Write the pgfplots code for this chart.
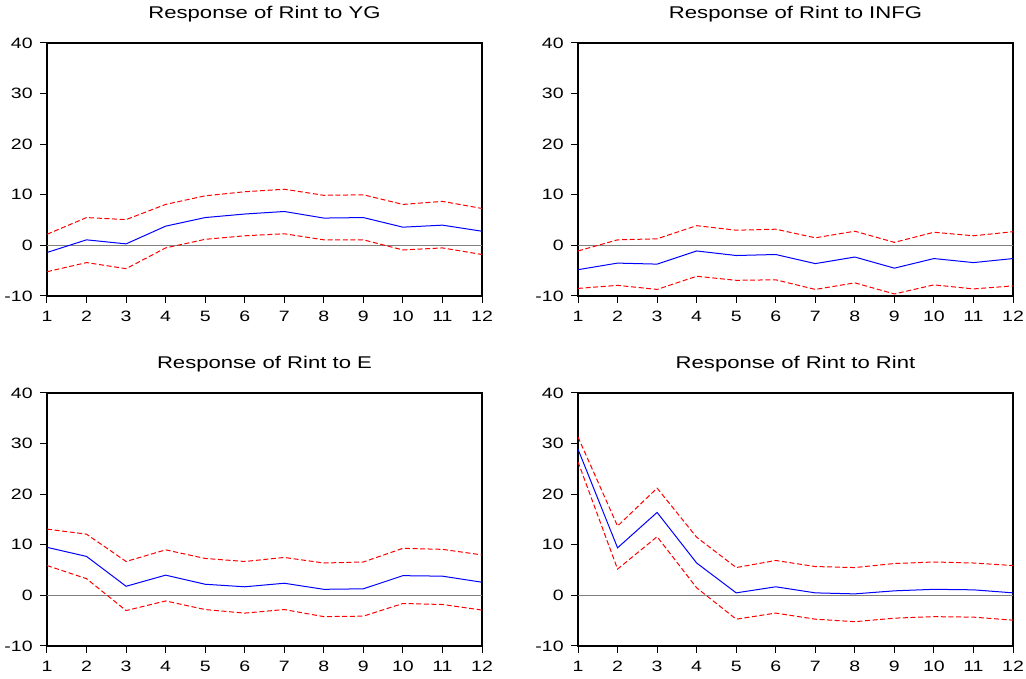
\documentclass[border=0pt]{standalone}
\usepackage{fontspec}
\setmainfont{Liberation Sans}[FakeStretch=1.3]
\usepackage{pgfplots}
\pgfplotsset{compat=1.18}
\usepgfplotslibrary{groupplots}

\definecolor{irfblue}{RGB}{0,0,255}
\definecolor{irfred}{RGB}{255,0,0}

\pgfplotsset{
  irf/.style={
    width=217.5pt, height=126.5pt, scale only axis,
    xmin=1, xmax=12, ymin=-10, ymax=40,
    xtick={1,...,12}, ytick={-10,0,10,20,30,40},
    tick align=outside, xtick pos=bottom, ytick pos=left,
    major tick length=3.5pt,
    tick style={black, line width=0.5pt},
    axis line style={line width=0.7pt, black},
    ticklabel style={font=\fontsize{7.5}{8}\selectfont, inner xsep=0pt},
    /pgf/number format/assume math mode=true,
    xticklabel style={yshift=-0.5pt},
    yticklabel style={xshift=-3.5pt},
    title style={font=\fontsize{8.5}{10}\selectfont, anchor=base, yshift=6pt},
  },
  irfmid/.style={irfblue, line width=0.5pt, mark=none},
  irfband/.style={irfred, line width=0.5pt, dash pattern=on 2.5pt off 1.3pt, mark=none},
  zeroline/.style={gray, line width=0.7pt, forget plot},
}

\begin{document}
\begin{tikzpicture}
\begin{groupplot}[group style={group size=2 by 2, horizontal sep=48pt, vertical sep=48.5pt}, irf]

\nextgroupplot[title={Response of Rint to YG}]
\addplot[zeroline] coordinates {(1,0) (12,0)};
\addplot[irfband] coordinates {(1,2.2) (2,5.5) (3,5.1) (4,8.1) (5,9.8) (6,10.6) (7,11.1) (8,9.9) (9,10.0) (10,8.1) (11,8.7) (12,7.3)};
\addplot[irfband] coordinates {(1,-5.2) (2,-3.4) (3,-4.6) (4,-0.5) (5,1.2) (6,1.9) (7,2.3) (8,1.1) (9,1.1) (10,-0.9) (11,-0.5) (12,-1.8)};
\addplot[irfmid] coordinates {(1,-1.4) (2,1.1) (3,0.3) (4,3.8) (5,5.5) (6,6.2) (7,6.7) (8,5.4) (9,5.5) (10,3.6) (11,4.0) (12,2.8)};

\nextgroupplot[title={Response of Rint to INFG}]
\addplot[zeroline] coordinates {(1,0) (12,0)};
\addplot[irfband] coordinates {(1,-1.1) (2,1.1) (3,1.3) (4,3.9) (5,3.0) (6,3.2) (7,1.5) (8,2.8) (9,0.6) (10,2.6) (11,1.9) (12,2.7)};
\addplot[irfband] coordinates {(1,-8.5) (2,-7.9) (3,-8.7) (4,-6.1) (5,-6.9) (6,-6.8) (7,-8.7) (8,-7.4) (9,-9.6) (10,-7.8) (11,-8.6) (12,-8.0)};
\addplot[irfmid] coordinates {(1,-4.8) (2,-3.5) (3,-3.7) (4,-1.1) (5,-2.0) (6,-1.8) (7,-3.6) (8,-2.3) (9,-4.5) (10,-2.6) (11,-3.4) (12,-2.6)};

\nextgroupplot[title={Response of Rint to E}]
\addplot[zeroline] coordinates {(1,0) (12,0)};
\addplot[irfband] coordinates {(1,13.1) (2,12.1) (3,6.7) (4,9.0) (5,7.3) (6,6.7) (7,7.5) (8,6.4) (9,6.6) (10,9.3) (11,9.1) (12,8.0)};
\addplot[irfband] coordinates {(1,5.9) (2,3.3) (3,-3.0) (4,-1.1) (5,-2.8) (6,-3.5) (7,-2.8) (8,-4.2) (9,-4.1) (10,-1.6) (11,-1.8) (12,-2.9)};
\addplot[irfmid] coordinates {(1,9.5) (2,7.7) (3,1.8) (4,4.0) (5,2.2) (6,1.7) (7,2.4) (8,1.2) (9,1.3) (10,3.9) (11,3.8) (12,2.6)};

\nextgroupplot[title={Response of Rint to Rint}]
\addplot[zeroline] coordinates {(1,0) (12,0)};
\addplot[irfband] coordinates {(1,31.3) (2,13.7) (3,21.2) (4,11.5) (5,5.5) (6,6.9) (7,5.7) (8,5.5) (9,6.3) (10,6.6) (11,6.4) (12,5.9)};
\addplot[irfband] coordinates {(1,26.4) (2,5.2) (3,11.6) (4,1.5) (5,-4.7) (6,-3.5) (7,-4.7) (8,-5.2) (9,-4.5) (10,-4.2) (11,-4.3) (12,-4.9)};
\addplot[irfmid] coordinates {(1,28.9) (2,9.4) (3,16.4) (4,6.4) (5,0.5) (6,1.7) (7,0.5) (8,0.3) (9,0.9) (10,1.2) (11,1.1) (12,0.5)};

\end{groupplot}
\path ([xshift=-23.5pt,yshift=148pt]group c1r1.south west) rectangle ([xshift=489.5pt,yshift=-187.5pt]group c1r1.south west);
\end{tikzpicture}
\end{document}
